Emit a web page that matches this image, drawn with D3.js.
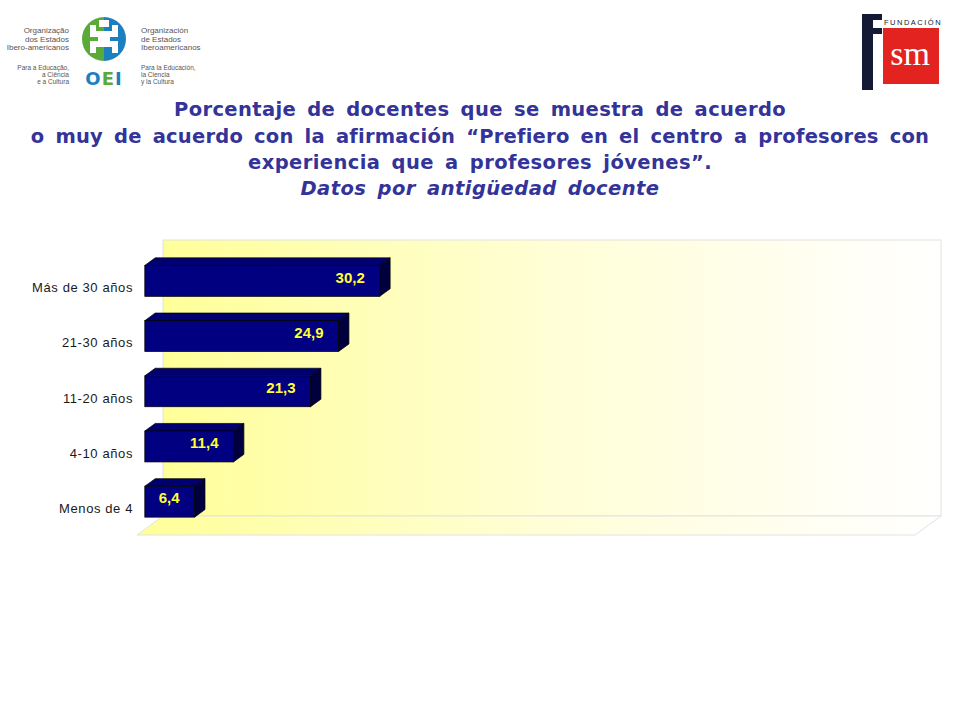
<!DOCTYPE html>
<html>
<head>
<meta charset="utf-8">
<script src="https://cdn.jsdelivr.net/npm/d3@7"></script>
<style>
  html, body { margin: 0; padding: 0; background: #ffffff; }
  svg { display: block; }
</style>
</head>
<body>
<svg id="chart" width="960" height="720"></svg>
<script>
// ---------- DATA ----------
const categories = ["Más de 30 años", "21-30 años", "11-20 años", "4-10 años", "Menos de 4"];
const values = [30.2, 24.9, 21.3, 11.4, 6.4];
const valueLabels = ["30,2", "24,9", "21,3", "11,4", "6,4"];
const axisDomain = [0, 100];
const titleLines = [
  "Porcentaje de docentes que se muestra de acuerdo",
  "o muy de acuerdo con la afirmación “Prefiero en el centro a profesores con",
  "experiencia que a profesores jóvenes”."
];
const subtitle = "Datos por antigüedad docente";

// ---------- SETUP ----------
const svg = d3.select("#chart");
const defs = svg.append("defs");

const plot = { left: 137, right: 915, top: 259, bottom: 535 };
const depth = { dx: 26, dy: -19 };
const barFront = 0.3, barBack = 0.7;

const x = d3.scaleLinear().domain(axisDomain).range([plot.left, plot.right]);
const y = d3.scaleBand().domain(categories).range([plot.top, plot.bottom])
  .paddingInner(0.44).paddingOuter(0.22);
const yBand = d3.scaleBand().domain(categories).range([plot.top, plot.bottom]);

// gradient
const grad = defs.append("linearGradient").attr("id", "wallGrad")
  .attr("x1", "0%").attr("x2", "100%").attr("y1", "0%").attr("y2", "0%");
grad.append("stop").attr("offset", "0%").attr("stop-color", "#ffff99");
grad.append("stop").attr("offset", "50%").attr("stop-color", "#fffed6");
grad.append("stop").attr("offset", "100%").attr("stop-color", "#ffffff");

// back wall
const bx0 = plot.left + depth.dx, bx1 = plot.right + depth.dx;
const by0 = plot.top + depth.dy, by1 = plot.bottom + depth.dy;
svg.append("rect").attr("x", bx0).attr("y", by0)
  .attr("width", bx1 - bx0).attr("height", by1 - by0)
  .attr("fill", "url(#wallGrad)").attr("stroke", "#e2e2e2").attr("stroke-width", 1);

// floor
const floorPts = [[plot.left, plot.bottom], [plot.right, plot.bottom], [bx1, by1], [bx0, by1]];
svg.append("path").attr("d", d3.line()(floorPts) + "Z")
  .attr("fill", "url(#wallGrad)").attr("stroke", "#e2e2e2").attr("stroke-width", 1);

// ---------- BARS ----------
const fdx = depth.dx * barFront, fdy = depth.dy * barFront;
const bdx = depth.dx * (barBack - barFront), bdy = depth.dy * (barBack - barFront);

const bars = svg.append("g").selectAll("g").data(categories).join("g");
bars.each(function(c, i) {
  const g = d3.select(this);
  const x0 = x(0) + fdx, x1 = x(values[i]) + fdx;
  const y0 = y(c) + fdy, h = y.bandwidth();
  g.append("path").attr("d", d3.line()([[x0, y0], [x1, y0], [x1 + bdx, y0 + bdy], [x0 + bdx, y0 + bdy]]) + "Z")
    .attr("fill", "#000070").attr("stroke", "#000000").attr("stroke-width", 0.7);
  g.append("path").attr("d", d3.line()([[x1, y0], [x1 + bdx, y0 + bdy], [x1 + bdx, y0 + h + bdy], [x1, y0 + h]]) + "Z")
    .attr("fill", "#00003f").attr("stroke", "#000000").attr("stroke-width", 0.7);
  g.append("rect").attr("x", x0).attr("y", y0).attr("width", x1 - x0).attr("height", h)
    .attr("fill", "#000080").attr("stroke", "#000000").attr("stroke-width", 0.7);
  g.append("text").attr("x", x1 - 15).attr("y", y0 + h / 2 + bdy / 2)
    .attr("text-anchor", "end").attr("dominant-baseline", "central")
    .attr("font-family", "Liberation Sans, Arial, sans-serif").attr("font-weight", "bold")
    .attr("font-size", 15).attr("fill", "#ffff33").text(valueLabels[i]);
});

// category axis labels
svg.append("g").selectAll("text").data(categories).join("text")
  .attr("x", 133).attr("y", c => yBand(c) + yBand.bandwidth() / 2 + 1)
  .attr("text-anchor", "end").attr("dominant-baseline", "central")
  .attr("font-family", "Liberation Sans, Arial, sans-serif").attr("font-size", 13)
  .attr("letter-spacing", 0.6).attr("fill", "#1a1a1a").text(c => c);

// ---------- TITLE ----------
const titleSpecs = [
  { t: titleLines[0], y: 116, w: 612, italic: false },
  { t: titleLines[1], y: 143, w: 897, italic: false },
  { t: titleLines[2], y: 169, w: 464, italic: false },
  { t: subtitle, y: 195, w: 359, italic: true }
];
titleSpecs.forEach(s => {
  const t = svg.append("text").attr("x", 480).attr("y", s.y)
    .attr("text-anchor", "middle")
    .attr("font-family", "DejaVu Sans, Verdana, sans-serif").attr("font-weight", "bold")
    .attr("font-style", s.italic ? "italic" : "normal")
    .attr("font-size", 19.5).attr("fill", "#333399")
    .attr("word-spacing", 4).text(s.t);
  const nat = t.node().getComputedTextLength();
  const n = s.t.length;
  const ls = (s.w - nat) / n;
  t.attr("letter-spacing", ls);
});

// ---------- LOGOS ----------
const oei = svg.append("g");
const lc = { x: 104, y: 39, r: 22 };
oei.append("path").attr("d", `M${lc.x},${lc.y - lc.r} A${lc.r},${lc.r} 0 0,0 ${lc.x},${lc.y + lc.r} Z`).attr("fill", "#5aaa3a");
oei.append("path").attr("d", `M${lc.x},${lc.y - lc.r} A${lc.r},${lc.r} 0 0,1 ${lc.x},${lc.y + lc.r} Z`).attr("fill", "#1c7fc0");
const fig = oei.append("g").attr("fill", "#ffffff");
fig.append("rect").attr("x", 99).attr("y", 20).attr("width", 10).attr("height", 7);
fig.append("rect").attr("x", 90).attr("y", 25).attr("width", 6).attr("height", 9);
fig.append("rect").attr("x", 112).attr("y", 25).attr("width", 6).attr("height", 9);
fig.append("rect").attr("x", 90).attr("y", 31).attr("width", 28).attr("height", 6);
fig.append("rect").attr("x", 98).attr("y", 31).attr("width", 12).attr("height", 13);
fig.append("rect").attr("x", 90).attr("y", 41).attr("width", 28).attr("height", 6);
fig.append("rect").attr("x", 90).attr("y", 44).attr("width", 6).attr("height", 9);
fig.append("rect").attr("x", 112).attr("y", 44).attr("width", 6).attr("height", 9);
oei.append("text").attr("x", 104).attr("y", 85).attr("text-anchor", "middle")
  .attr("font-family", "DejaVu Sans, sans-serif").attr("font-weight", "bold").attr("font-size", 18)
  .attr("letter-spacing", 1)
  .selectAll("tspan").data([["O", "#1c7fc0"], ["E", "#5aaa3a"], ["I", "#1c7fc0"]]).join("tspan")
  .attr("fill", d => d[1]).text(d => d[0]);

const smallTxt = (arr, xPos, y0, step, size, anchor) => {
  oei.append("g").selectAll("text").data(arr).join("text")
    .attr("x", xPos).attr("y", (d, i) => y0 + i * step)
    .attr("text-anchor", anchor).attr("font-family", "Liberation Sans Narrow, Liberation Sans, Arial, sans-serif")
    .attr("font-size", size).attr("fill", "#555555").text(d => d);
};
smallTxt(["Organização", "dos Estados", "Ibero-americanos"], 69, 33, 8.5, 8, "end");
smallTxt(["Para a Educação,", "a Ciência", "e a Cultura"], 69, 70, 7, 6.5, "end");
smallTxt(["Organización", "de Estados", "Iberoamericanos"], 141, 33, 8.5, 8, "start");
smallTxt(["Para la Educación,", "la Ciencia", "y la Cultura"], 141, 70, 7, 6.5, "start");

const fsm = svg.append("g");
fsm.append("rect").attr("x", 862).attr("y", 14).attr("width", 11).attr("height", 76).attr("fill", "#141a33");
fsm.append("rect").attr("x", 862).attr("y", 14).attr("width", 20).attr("height", 6).attr("fill", "#141a33");
fsm.append("rect").attr("x", 873).attr("y", 28).attr("width", 9).attr("height", 6).attr("fill", "#141a33");
fsm.append("rect").attr("x", 883).attr("y", 28).attr("width", 56).attr("height", 56).attr("fill", "#e3231f");
fsm.append("text").attr("x", 910).attr("y", 65).attr("text-anchor", "middle")
  .attr("font-family", "Liberation Serif, serif").attr("font-size", 34).attr("fill", "#ffffff").text("sm");
fsm.append("text").attr("x", 884).attr("y", 25).attr("font-family", "Liberation Sans, sans-serif")
  .attr("font-size", 7.5).attr("letter-spacing", 1.5).attr("fill", "#141a33").text("FUNDACIÓN");
</script>
</body>
</html>
